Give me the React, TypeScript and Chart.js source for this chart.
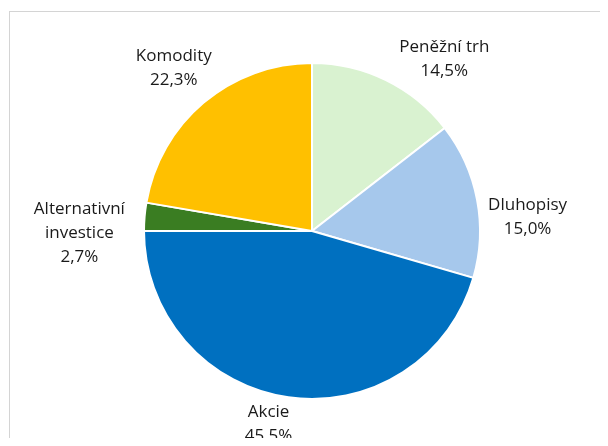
import React, { useEffect, useRef } from "react";
import { Chart, registerables } from "chart.js";

Chart.register(...registerables);

const categories = ["Peněžní trh", "Dluhopisy", "Akcie", "Alternativní investice", "Komodity"];
const shares = [14.5, 15.0, 45.5, 2.7, 22.3];
const sliceColors = ["#d9f2d0", "#a6c8ec", "#0070c0", "#3a7d22", "#ffc000"];

// label placement nudges, imitating Excel "best fit"
const LABEL_ANGLE_NUDGE = [11, 6.4, 4.8, -4.7, 0.3];
const LABEL_RADIAL_NUDGE = [0, 2, -7, 14, 0];
const FONT = "17px 'Open Sans', Lato, sans-serif";
const LINE_H = 24;
const TEXT_DY = 3;

function wrap(ctx: CanvasRenderingContext2D, text: string, maxW: number): string[] {
  const words = text.split(" ");
  const lines: string[] = [];
  let cur = "";
  for (const w of words) {
    const t = cur ? cur + " " + w : w;
    if (cur && ctx.measureText(t).width > maxW) {
      lines.push(cur);
      cur = w;
    } else cur = t;
  }
  if (cur) lines.push(cur);
  return lines;
}

const labelPlugin = {
  id: "outerLabels",
  afterDatasetsDraw(chart: any) {
    const ctx: CanvasRenderingContext2D = chart.ctx;
    const meta = chart.getDatasetMeta(0);
    const data = chart.data.datasets[0].data as number[];
    ctx.save();
    ctx.font = FONT;
    ctx.fillStyle = "#1a1a1a";
    ctx.textAlign = "center";
    ctx.textBaseline = "middle";
    meta.data.forEach((arc: any, i: number) => {
      const p = arc.getProps(["x", "y", "startAngle", "endAngle", "outerRadius"], true);
      const a = (p.startAngle + p.endAngle) / 2 + (LABEL_ANGLE_NUDGE[i] * Math.PI) / 180;
      const lines = wrap(ctx, String(chart.data.labels[i]), 115);
      lines.push(data[i].toFixed(1).replace(".", ",") + "%");
      const halfW = Math.max(...lines.map((l) => ctx.measureText(l).width)) / 2;
      const halfH = (lines.length * LINE_H) / 2;
      const c = Math.cos(a);
      const s = Math.sin(a);
      const d = p.outerRadius + 5 + LABEL_RADIAL_NUDGE[i] + halfW * Math.abs(c) + halfH * Math.abs(s);
      const cx = p.x + d * c;
      const cy = p.y + d * s + TEXT_DY;
      lines.forEach((l, k) => {
        ctx.fillText(l, cx, cy - halfH + LINE_H / 2 + k * LINE_H);
      });
    });
    ctx.restore();
  },
};

export default function App() {
  const ref = useRef<HTMLCanvasElement>(null);
  useEffect(() => {
    if (!ref.current) return;
    const chart = new Chart(ref.current, {
      type: "pie",
      data: {
        labels: categories,
        datasets: [
          {
            data: shares,
            backgroundColor: sliceColors,
            borderColor: "#ffffff",
            borderWidth: 2,
          },
        ],
      },
      options: {
        animation: false,
        responsive: false,
        maintainAspectRatio: false,
        layout: { padding: { top: 62, bottom: 46, left: 143, right: 127 } },
        plugins: { legend: { display: false }, tooltip: { enabled: false } },
      },
      plugins: [labelPlugin],
    });
    return () => chart.destroy();
  }, []);

  return (
    <div style={{ position: "relative", width: 608, height: 446, margin: -8, overflow: "hidden", background: "#fff" }}>
      <div
        style={{
          position: "absolute",
          left: 9,
          top: 11,
          width: 640,
          height: 480,
          border: "1px solid #d4d4d4",
        }}
      />
      <canvas ref={ref} width={608} height={446} style={{ position: "absolute", left: 0, top: 0 }} />
    </div>
  );
}
